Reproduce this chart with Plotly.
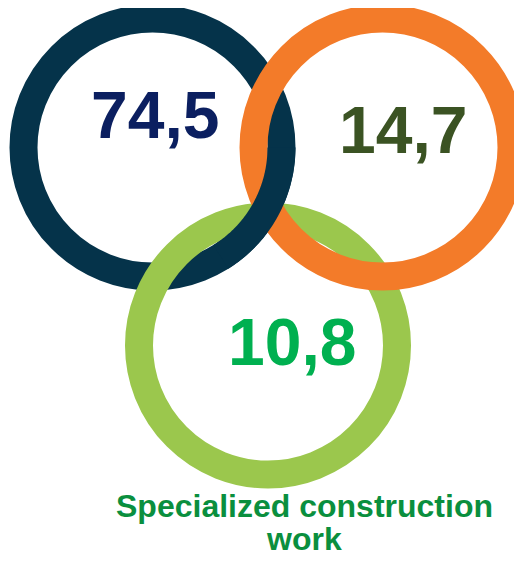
import numpy as np
import plotly.graph_objects as go

# ---- data ----
values = [74.5, 14.7, 10.8]
value_colors = ["#0B1F60", "#3B5323", "#00B050"]
ring_colors = ["#05334A", "#F37B29", "#9BC74D"]
caption_lines = ["Specialized construction", "work"]
caption_color = "#0A8F3E"

# ---- layout geometry (page pixel space; page body has an 8px margin) ----
W, H = 522, 561
OFF = 8
centers = [(152.5, 147.5), (382.5, 147.5), (268.0, 345.5)]
r_mid = 129.0
ring_w = 28
text_pos = [(154.5, 114.5), (403.0, 129.5), (292.0, 342.0)]


def fmt(v):
    return f"{v:.1f}".replace(".", ",")


shapes = []
# draw order: navy, green, orange (orange over green everywhere)
for idx in [0, 2, 1]:
    cx, cy = centers[idx]
    shapes.append(dict(type="circle", xref="x", yref="y",
                       x0=cx - r_mid, x1=cx + r_mid, y0=cy - r_mid, y1=cy + r_mid,
                       line=dict(color=ring_colors[idx], width=ring_w),
                       fillcolor="rgba(0,0,0,0)", layer="above"))

# navy arc re-drawn on top at its lower-right crossings (interlocking)
ang = np.radians(np.linspace(0, 58, 80))
cx, cy = centers[0]
xs = cx + r_mid * np.cos(ang)
ys = cy + r_mid * np.sin(ang)
path = "M " + " L ".join(f"{x:.2f},{y:.2f}" for x, y in zip(xs, ys))
shapes.append(dict(type="path", xref="x", yref="y", path=path,
                   line=dict(color=ring_colors[0], width=ring_w),
                   fillcolor="rgba(0,0,0,0)", layer="above"))

annotations = []
for v, c, (tx, ty) in zip(values, value_colors, text_pos):
    annotations.append(dict(x=tx, y=ty, xref="x", yref="y", text=f"<b>{fmt(v)}</b>",
                            showarrow=False, xanchor="center", yanchor="middle",
                            font=dict(family="Liberation Sans, Arial", size=66, color=c)))

cap_y = [506, 539]
cap_x = [304.5, 304.0]
for line, x, y in zip(caption_lines, cap_x, cap_y):
    annotations.append(dict(x=x, y=y, xref="x", yref="y", text=f"<b>{line}</b>",
                            showarrow=False, xanchor="center", yanchor="middle",
                            font=dict(family="Liberation Sans, Arial", size=32, color=caption_color)))

fig = go.Figure()
fig.add_trace(go.Scatter(x=[OFF, W], y=[OFF, H], mode="markers",
                         marker=dict(opacity=0), hoverinfo="skip", showlegend=False))
fig.update_layout(width=W - OFF, height=H - OFF, margin=dict(l=0, r=0, t=0, b=0),
                  paper_bgcolor="white", plot_bgcolor="white",
                  xaxis=dict(range=[OFF, W], visible=False, fixedrange=True),
                  yaxis=dict(range=[H, OFF], visible=False, fixedrange=True),
                  shapes=shapes, annotations=annotations, showlegend=False)
fig.write_html("out.html")
